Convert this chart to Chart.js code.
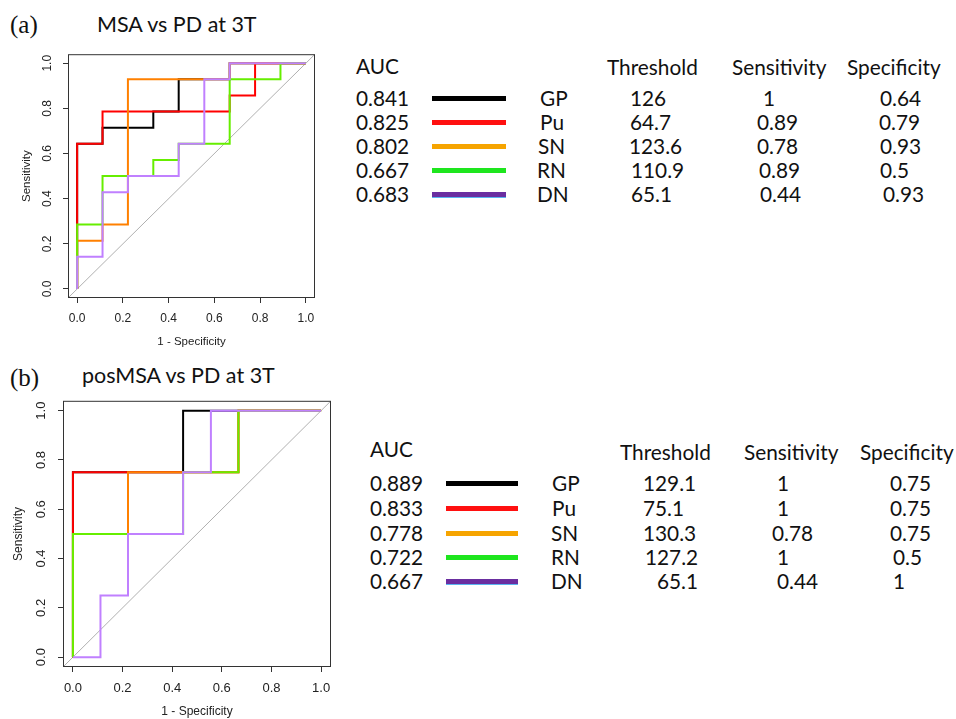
<!DOCTYPE html>
<html>
<head>
<meta charset="utf-8">
<script src="https://cdn.jsdelivr.net/npm/chart.js@4.4.0/dist/chart.umd.min.js"></script>
<style>
  html, body { margin: 0; padding: 0; background: #fff; }
  #page { position: relative; width: 956px; height: 719px; overflow: hidden; background: #fff; }
  canvas { position: absolute; }
  .t { position: absolute; white-space: nowrap; font-family: Lato, "Open Sans", sans-serif; color: #111; line-height: 1; }
  .serif { font-family: "Liberation Serif", "DejaVu Serif", serif; }
  .ln { position: absolute; height: 5px; }
</style>
</head>
<body>
<div id="page">
  <div class="t serif" style="left:10px;top:12px;font-size:25px;">(a)</div>
  <div class="t" style="left:97px;top:14px;font-size:21.5px;">MSA vs PD at 3T</div>
  <div class="t serif" style="left:10px;top:365px;font-size:25px;">(b)</div>
  <div class="t" style="left:82px;top:365px;font-size:21.5px;">posMSA vs PD at 3T</div>
  <canvas id="ca" width="330" height="315" style="left:0;top:40px;"></canvas>
  <canvas id="cb" width="345" height="334" style="left:0;top:385px;"></canvas>
  <div id="tables"></div>
</div>
<script>
// ---------------- data ----------------
const regions = ["GP", "Pu", "SN", "RN", "DN"];
const axisTicks = [0, 0.2, 0.4, 0.6, 0.8, 1.0];
const diagonal = [[-0.04, -0.04], [1.04, 1.04]];

// (a) MSA vs PD at 3T : ROC corners [1 - specificity, sensitivity]
const rocA_GP = [[0,0],[0,0.643],[0.111,0.643],[0.111,0.714],[0.333,0.714],[0.333,0.786],[0.444,0.786],[0.444,0.929],[0.667,0.929],[0.667,1],[1,1]];
const rocA_Pu = [[0,0],[0,0.643],[0.111,0.643],[0.111,0.786],[0.667,0.786],[0.667,0.857],[0.778,0.857],[0.778,1],[1,1]];
const rocA_SN = [[0,0],[0,0.214],[0.111,0.214],[0.111,0.286],[0.222,0.286],[0.222,0.929],[0.667,0.929],[0.667,1],[1,1]];
const rocA_RN = [[0,0],[0,0.286],[0.111,0.286],[0.111,0.5],[0.333,0.5],[0.333,0.571],[0.444,0.571],[0.444,0.643],[0.667,0.643],[0.667,0.929],[0.889,0.929],[0.889,1],[1,1]];
const rocA_DN = [[0,0],[0,0.143],[0.111,0.143],[0.111,0.429],[0.222,0.429],[0.222,0.5],[0.444,0.5],[0.444,0.643],[0.556,0.643],[0.556,0.929],[0.667,0.929],[0.667,1],[1,1]];

// (b) posMSA vs PD at 3T
const rocB_GP = [[0,0],[0,0.75],[0.444,0.75],[0.444,1],[1,1]];
const rocB_Pu = [[0,0],[0,0.75],[0.667,0.75],[0.667,1],[1,1]];
const rocB_SN = [[0,0],[0,0.5],[0.222,0.5],[0.222,0.75],[0.667,0.75],[0.667,1],[1,1]];
const rocB_RN = [[0,0],[0,0.5],[0.444,0.5],[0.444,0.75],[0.667,0.75],[0.667,1],[1,1]];
const rocB_DN = [[0,0],[0.111,0],[0.111,0.25],[0.222,0.25],[0.222,0.5],[0.444,0.5],[0.444,0.75],[0.556,0.75],[0.556,1],[1,1]];

// table values
const aucA  = ["0.841", "0.825", "0.802", "0.667", "0.683"];
const thrA  = ["126", "64.7", "123.6", "110.9", "65.1"];
const sensA = ["1", "0.89", "0.78", "0.89", "0.44"];
const specA = ["0.64", "0.79", "0.93", "0.5", "0.93"];
const aucB  = ["0.889", "0.833", "0.778", "0.722", "0.667"];
const thrB  = ["129.1", "75.1", "130.3", "127.2", "65.1"];
const sensB = ["1", "1", "0.78", "1", "0.44"];
const specB = ["0.75", "0.75", "0.75", "0.5", "1"];

// ---------------- styles / layout ----------------
const plotColors = ["#000000", "#ff0000", "#ff8000", "#66ee00", "#c080ff"];
const legendColors = ["#000000", "#ff1010", "#f6a400", "#1ee61e", "#6a2ea0"];

const boxPlugin = {
  id: 'box',
  afterDatasetsDraw(chart) {
    const { ctx, chartArea: a } = chart;
    ctx.save();
    ctx.strokeStyle = '#333333';
    ctx.lineWidth = 1;
    ctx.strokeRect(a.left + 0.5, a.top + 0.5, a.right - a.left - 1, a.bottom - a.top - 1);
    ctx.restore();
  }
};

function makeChart(id, series, L) {
  const datasets = [{
    data: diagonal.map(p => ({ x: p[0], y: p[1] })),
    borderColor: '#b0b0b0', borderWidth: 1, order: 10
  }];
  series.forEach((s, i) => {
    datasets.push({
      label: regions[i],
      data: s.map(p => ({ x: p[0], y: p[1] })),
      borderColor: plotColors[i], borderWidth: 2, order: 5 - i
    });
  });
  const tickFont = { family: 'Liberation Sans, Arial, sans-serif', size: L.tickSize };
  const titleFont = { family: 'Liberation Sans, Arial, sans-serif', size: L.titleSize };
  const setTicks = s => { s.ticks = axisTicks.map(v => ({ value: v })); };
  return new Chart(document.getElementById(id), {
    type: 'scatter',
    data: { datasets },
    plugins: [boxPlugin],
    options: {
      responsive: false, animation: false, devicePixelRatio: 1,
      showLine: true,
      elements: { point: { radius: 0, hoverRadius: 0 }, line: { tension: 0, fill: false } },
      layout: { padding: { top: L.padTop, right: L.padRight, left: 0, bottom: 0 } },
      plugins: { legend: { display: false }, tooltip: { enabled: false } },
      scales: {
        x: {
          type: 'linear', min: -0.04, max: 1.04,
          afterBuildTicks: setTicks,
          afterFit: s => { s.height = L.xHeight; },
          border: { display: false },
          grid: { drawOnChartArea: false, drawTicks: true, tickLength: 5, color: '#333333' },
          ticks: { callback: v => v.toFixed(1), font: tickFont, color: '#222', padding: L.xTickPad, maxRotation: 0, minRotation: 0 },
          title: { display: true, text: '1 - Specificity', font: titleFont, color: '#222', padding: { top: 0, bottom: L.xTitlePad } }
        },
        y: {
          type: 'linear', min: -0.04, max: 1.04,
          afterBuildTicks: setTicks,
          afterFit: s => { s.width = L.yWidth; },
          border: { display: false },
          grid: { drawOnChartArea: false, drawTicks: true, tickLength: 5, color: '#333333' },
          ticks: { callback: v => v.toFixed(1), font: tickFont, color: '#222', padding: L.yTickPad, minRotation: 90, maxRotation: 90, crossAlign: 'center' },
          title: { display: true, text: 'Sensitivity', font: titleFont, color: '#222', padding: { top: L.yTitlePad, bottom: 0 } }
        }
      }
    }
  });
}

makeChart('ca', [rocA_GP, rocA_Pu, rocA_SN, rocA_RN, rocA_DN],
  { padTop: 12, padRight: 15, xHeight: 57, yWidth: 68, tickSize: 12, titleSize: 11.5, xTickPad: 8, yTickPad: 7, xTitlePad: 6, yTitlePad: 20 });
makeChart('cb', [rocB_GP, rocB_Pu, rocB_SN, rocB_RN, rocB_DN],
  { padTop: 13, padRight: 14, xHeight: 52, yWidth: 63, tickSize: 13, titleSize: 12, xTickPad: 9, yTickPad: 8, xTitlePad: 0, yTitlePad: 11 });

// ---------------- tables (HTML text) ----------------
const FS = 20.8;
function txt(s, x, baseline, size) {
  const d = document.createElement('div');
  d.className = 't';
  d.style.fontSize = size + 'px';
  d.style.left = x + 'px';
  d.style.top = (baseline - 0.80 * size) + 'px';
  d.textContent = s;
  document.getElementById('tables').appendChild(d);
}
function line(x1, x2, yc, color, i) {
  const d = document.createElement('div');
  d.className = 'ln';
  d.style.left = x1 + 'px';
  d.style.width = (x2 - x1) + 'px';
  d.style.top = (yc - 2.5) + 'px';
  d.style.background = color;
  if (i === 4) d.style.boxShadow = '0 1px 0 #5ab4f0';
  document.getElementById('tables').appendChild(d);
}
function table(T) {
  txt('AUC', T.colAuc, T.headBase, FS);
  txt('Threshold', T.colThrH, T.headBase2, FS);
  txt('Sensitivity', T.colSensH, T.headBase2, FS);
  txt('Specificity', T.colSpecH, T.headBase2, FS);
  for (let i = 0; i < 5; i++) {
    const b = T.rowBase[i];
    txt(T.auc[i], T.colAuc, b, FS);
    line(T.lineX[0], T.lineX[1], b - 7, legendColors[i], i);
    txt(regions[i], T.colReg[i], b, FS);
    txt(T.thr[i], T.colThr[i], b, FS);
    txt(T.sens[i], T.colSens[i], b, FS);
    txt(T.spec[i], T.colSpec[i], b, FS);
  }
}
table({ auc: aucA, thr: thrA, sens: sensA, spec: specA,
  colAuc: 356, colThrH: 607, colSensH: 732, colSpecH: 847, headBase: 73, headBase2: 74,
  rowBase: [105, 129, 153, 177, 201], lineX: [432, 506],
  colReg: [540, 540, 538, 537, 537], colThr: [630, 630, 629, 631, 631],
  colSens: [763, 757, 757, 759, 760], colSpec: [880, 879, 880, 880, 883] });
table({ auc: aucB, thr: thrB, sens: sensB, spec: specB,
  colAuc: 370, colThrH: 620, colSensH: 744, colSpecH: 860, headBase: 456, headBase2: 459,
  rowBase: [490, 515, 540, 564, 588], lineX: [446, 518],
  colReg: [552, 552, 551, 551, 551], colThr: [643, 643, 643, 645, 657],
  colSens: [777, 777, 772, 777, 777], colSpec: [890, 890, 890, 893, 893] });
</script>
</body>
</html>
